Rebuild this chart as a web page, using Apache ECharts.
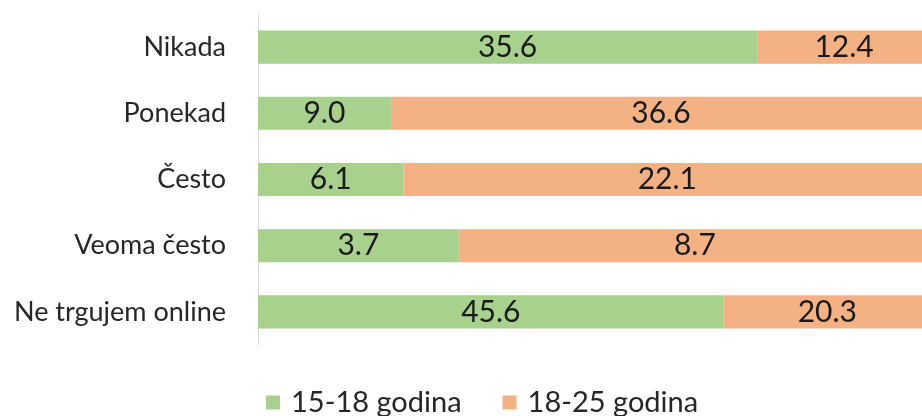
<!DOCTYPE html>
<html>
<head>
<meta charset="utf-8">
<script src="https://cdn.jsdelivr.net/npm/echarts@6/dist/echarts.min.js"></script>
<style>
  html, body { margin: 0; padding: 0; background: #fff; overflow: hidden; }
  /* plot area continues a bit past the right edge, as in the original crop */
  #chart { width: 931px; height: 416px; }
</style>
</head>
<body>
<div id="chart"></div>
<script>
// kategorije (odozgo prema dolje)
const categories = ['Nikada', 'Ponekad', 'Često', 'Veoma često', 'Ne trgujem online'];
const seriesNames = ['15-18 godina', '18-25 godina'];
const values1518 = [35.6, 9.0, 6.1, 3.7, 45.6];
const values1825 = [12.4, 36.6, 22.1, 8.7, 20.3];

// 100% složeni stupci: udio u zbroju reda
const totals = values1518.map((v, i) => v + values1825[i]);
const share = arr => arr.map((v, i) => ({ value: v / totals[i] * 100, raw: v }));

const chart = echarts.init(document.getElementById('chart'));

const labelStyle = {
    show: true,
    position: 'inside',
    fontSize: 30,
    fontFamily: 'Lato, sans-serif',
    color: '#1a1a1a',
    formatter: p => p.data.raw.toFixed(1)
};

chart.setOption({
    animation: false,
    grid: { left: 258, right: 0, top: 14, bottom: 71 },
    legend: {
        top: 383,
        left: 261,
        itemWidth: 14,
        itemHeight: 14,
        itemGap: 41,
        icon: 'rect',
        textStyle: { fontSize: 29, fontFamily: 'Lato, sans-serif', color: '#262626', padding: [0, 0, 0, 6] },
        data: seriesNames
    },
    xAxis: {
        type: 'value',
        min: 0,
        max: 100,
        show: false
    },
    yAxis: {
        type: 'category',
        data: categories,
        inverse: true,
        axisLine: { show: true, lineStyle: { color: '#d9d9d9' } },
        axisTick: { show: false },
        axisLabel: { fontSize: 27, fontFamily: 'Lato, sans-serif', color: '#262626', margin: 32 }
    },
    series: [
        {
            name: seriesNames[0],
            type: 'bar',
            stack: 'total',
            barWidth: '50%',
            itemStyle: { color: '#a9d18e' },
            label: labelStyle,
            data: share(values1518)
        },
        {
            name: seriesNames[1],
            type: 'bar',
            stack: 'total',
            barWidth: '50%',
            itemStyle: { color: '#f4b183' },
            label: labelStyle,
            data: share(values1825)
        }
    ]
});
</script>
</body>
</html>
